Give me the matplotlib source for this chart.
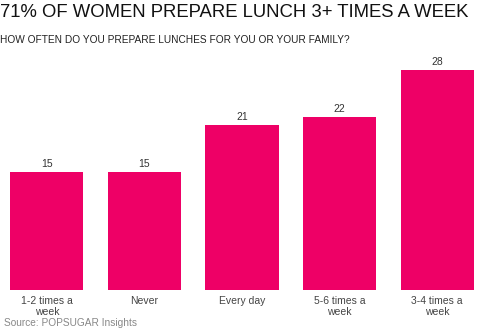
import matplotlib
matplotlib.use("Agg")
import matplotlib.pyplot as plt

categories = ["1-2 times a\nweek", "Never", "Every day", "5-6 times a\nweek", "3-4 times a\nweek"]
values = [15, 15, 21, 22, 28]

plt.rcParams['font.family'] = ['Liberation Sans', 'DejaVu Sans']

fig = plt.figure(figsize=(5, 3.33), dpi=100)
ax = fig.add_axes([-0.004, 0.129, 0.976, 0.709])
x = list(range(len(values)))
bars = ax.bar(x, values, width=0.75, color='#EE0066')
for xi, v in zip(x, values):
    ax.text(xi, v + 0.4, str(v), ha='center', va='bottom', fontsize=7.5, color='#333333')
ax.set_xlim(-0.5, 4.5)
ax.set_ylim(0, 30)
ax.set_xticks(x)
ax.set_xticklabels(categories, fontsize=7.5, color='#444444', linespacing=1.15)
ax.tick_params(axis='x', length=0, pad=4)
ax.set_yticks([])
for s in ax.spines.values():
    s.set_visible(False)

fig.text(0.0, 0.963, "71% OF WOMEN PREPARE LUNCH 3+ TIMES A WEEK", fontsize=13.3, color='#111111', va='center', ha='left')
fig.text(0.0, 0.88, "HOW OFTEN DO YOU PREPARE LUNCHES FOR YOU OR YOUR FAMILY?", fontsize=7.3, color='#222222', va='center', ha='left')
fig.text(0.008, 0.03, "Source: POPSUGAR Insights", fontsize=7.3, color='#888888', va='center', ha='left')

fig.savefig("out.png", dpi=100)
